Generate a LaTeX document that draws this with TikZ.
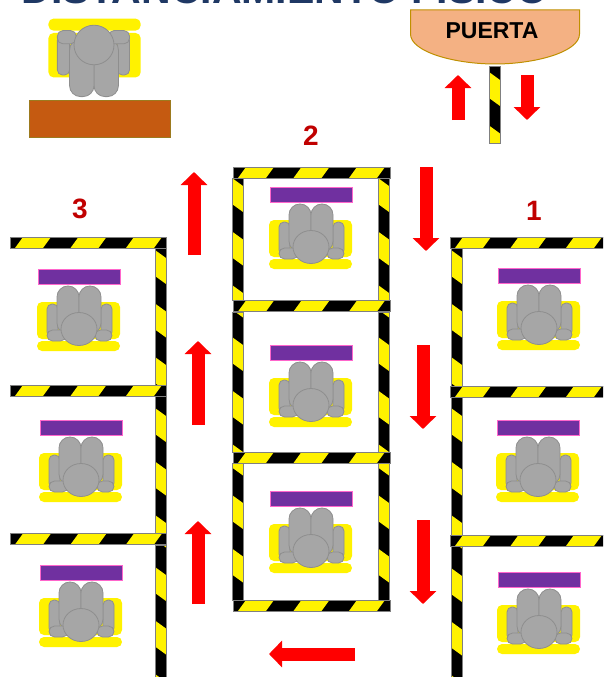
\documentclass[tikz,border=0pt]{standalone}
\usepackage{fontspec}
\setmainfont{Liberation Sans}
\usetikzlibrary{arrows.meta}

\definecolor{titleBlue}{HTML}{1F3864}
\definecolor{labelRed}{HTML}{C00000}
\definecolor{doorFill}{HTML}{F4B183}
\definecolor{doorLine}{HTML}{BF9000}
\definecolor{tableFill}{HTML}{C55A11}
\definecolor{tableLine}{HTML}{9C7A1E}
\definecolor{deskFill}{HTML}{7030A0}
\definecolor{deskLine}{HTML}{FF66CC}
\definecolor{bodyFill}{HTML}{A6A6A6}
\definecolor{bodyLine}{HTML}{8E8E8E}

% Horizontal tape: left x, right x, middle y
\newcommand{\tapeH}[3]{
    \begin{scope}
        \clip ({#1},{#3-5.5}) rectangle ({#2},{#3+5.5});
        \fill[black] ({#1},{#3-5.5}) rectangle ({#2},{#3+5.5});
        \foreach \k in {0,...,3} {
            \pgfmathsetmacro{\s}{#1+5+55.5*\k}
            \fill[yellow] ({\s},{#3+5.5}) -- ({\s+28},{#3+5.5}) -- ({\s+36},{#3-5.5}) -- ({\s+8},{#3-5.5}) -- cycle;
        }
    \end{scope}
    \draw[tapeEdge] ({#1},{#3-5.5}) rectangle ({#2},{#3+5.5});
}
% Vertical tape: left x, top y, bottom y, offset of the first stripe
\newcommand{\tapeV}[4]{
    \begin{scope}
        \clip ({#1},{#2}) rectangle ({#1+11},{#3});
        \fill[black] ({#1},{#2}) rectangle ({#1+11},{#3});
        \foreach \k in {-1,...,3} {
            \pgfmathsetmacro{\s}{#2+#4+53.5*\k}
            \fill[yellow] ({#1},{\s}) -- ({#1+11},{\s+8}) -- ({#1+11},{\s+34}) -- ({#1},{\s+26}) -- cycle;
        }
    \end{scope}
    \draw[tapeEdge] ({#1},{#2}) rectangle ({#1+11},{#3});
}

\begin{document}
\begin{tikzpicture}[
    x=1pt, y=-1pt,
    % Define the style for the tape border
    tapeEdge/.style={
        draw=gray,
        line width=0.5pt
    },
    % Define the style for the red arrows
    redArrow/.style={
        draw=red,
        line width=13pt,
        -{Triangle[length=13pt,width=26pt,fill=red]}
    },
    % Define the style for the numbers
    rowLabel/.style={
        text=labelRed,
        font=\fontsize{28}{30}\selectfont\bfseries
    },
    % Define the style for the desks
    deskBar/.style={
        rectangle,
        draw=deskLine,
        fill=deskFill,
        line width=1pt,
        inner sep=0pt,
        minimum width=82pt,
        minimum height=15pt
    },
    % Define the style for the parts of a person
    bodyPart/.style={
        draw=bodyLine,
        fill=bodyFill,
        line width=0.8pt
    },
    seatPart/.style={
        fill=yellow,
        rounded corners=5pt
    },
    % One seated person, head at the origin
    seatedPerson/.pic={
        \fill[seatPart] (-42,-27) rectangle (41,10);
        \fill[seatPart] (-42,12) rectangle (41,22);
        \draw[bodyPart, rounded corners=5pt] (-32,-25) rectangle (-21,8);
        \draw[bodyPart, rounded corners=5pt] (22,-25) rectangle (33,8);
        \draw[bodyPart, rounded corners=10.9pt] (-22,-43) rectangle (0,5);
        \draw[bodyPart, rounded corners=10.9pt] (0,-43) rectangle (22,5);
        \draw[bodyPart, rounded corners=5.5pt] (-32,1) rectangle (-13,12);
        \draw[bodyPart, rounded corners=5.5pt] (16,1) rectangle (33,12);
        \draw[bodyPart] (0,0) ellipse (18 and 16.5);
    }
]

    % --- PAGE ---
    \useasboundingbox (0,0) rectangle (603,677);
    \clip (0,0) rectangle (603,677);

    % --- TITLE ---
    \node[text=titleBlue, anchor=base, inner sep=0pt, font=\fontsize{41}{43}\selectfont\bfseries]
        (titleText) at (285,4) {DISTANCIAMIENTO FISICO};

    % --- TEACHER AND TABLE ---
    \pic[rotate=180, xscale=1.11, yscale=1.2] at (94,45) {seatedPerson};
    \draw[fill=tableFill, draw=tableLine, line width=1pt] (29,100) rectangle (170,137);

    % --- DOOR ---
    \draw[fill=doorFill, draw=doorLine, line width=1pt]
        (410.5,10) -- (579.5,10) -- (579.5,34) .. controls (579.5,52) and (535,64) .. (495,64)
        .. controls (455,64) and (410.5,52) .. (410.5,34) -- cycle;
    \node[font=\fontsize{23}{25}\selectfont\bfseries, inner sep=0pt] (doorText) at (492,31) {PUERTA};
    \tapeV{489}{66}{143}{6}

    % --- NUMBERS ---
    \node[rowLabel, inner sep=0pt] (rowOne) at (534,211) {1};
    \node[rowLabel, inner sep=0pt] (rowTwo) at (311,136) {2};
    \node[rowLabel, inner sep=0pt] (rowThree) at (80,209) {3};

    % --- TAPE ---
    % Column 3
    \tapeV{155}{248}{385}{2}
    \tapeV{155}{396}{533}{12}
    \tapeV{155}{545}{677}{22}
    \foreach \y in {242.5,390.5,539} {
        \tapeH{10}{166}{\y}
    }
    % Column 2
    \foreach \x in {232,378} {
        \tapeV{\x}{178}{300}{0}
        \tapeV{\x}{312}{452}{25}
        \tapeV{\x}{463}{600}{32}
    }
    \foreach \y in {172.5,306,457.5,605.5} {
        \tapeH{233}{390}{\y}
    }
    % Column 1
    \tapeV{451}{248}{386}{2}
    \tapeV{451}{397}{535}{11}
    \tapeV{451}{546}{677}{22}
    \foreach \y in {242.5,391.5,540.5} {
        \tapeH{450}{610}{\y}
    }

    % --- PEOPLE AND DESKS ---
    \foreach \hx/\hy/\name in {539/328/a, 538/480/b, 539/632/c, 311/247/d, 311/405/e, 311/551/f, 79/329/g, 81/480/h, 81/625/i} {
        \pic at (\hx,\hy) {seatedPerson};
        \node[deskBar] (desk\name) at (\hx,\hy-52) {};
    }

    % --- ARROWS ---
    \coordinate (doorUpA) at (458,120);
    \coordinate (doorUpB) at (458,75);
    \coordinate (doorDownA) at (527,75);
    \coordinate (doorDownB) at (527,120);
    \draw[redArrow] (doorUpA) -- (doorUpB);
    \draw[redArrow] (doorDownA) -- (doorDownB);

    \foreach \x/\ya/\yb in {426/167/251, 423/345/429, 423/520/604, 194/255/172, 198/425/341, 198/604/521} {
        \draw[redArrow] (\x,\ya) -- (\x,\yb);
    }
    \coordinate (backA) at (355,654);
    \coordinate (backB) at (269,654);
    \draw[redArrow] (backA) -- (backB);

\end{tikzpicture}
\end{document}
